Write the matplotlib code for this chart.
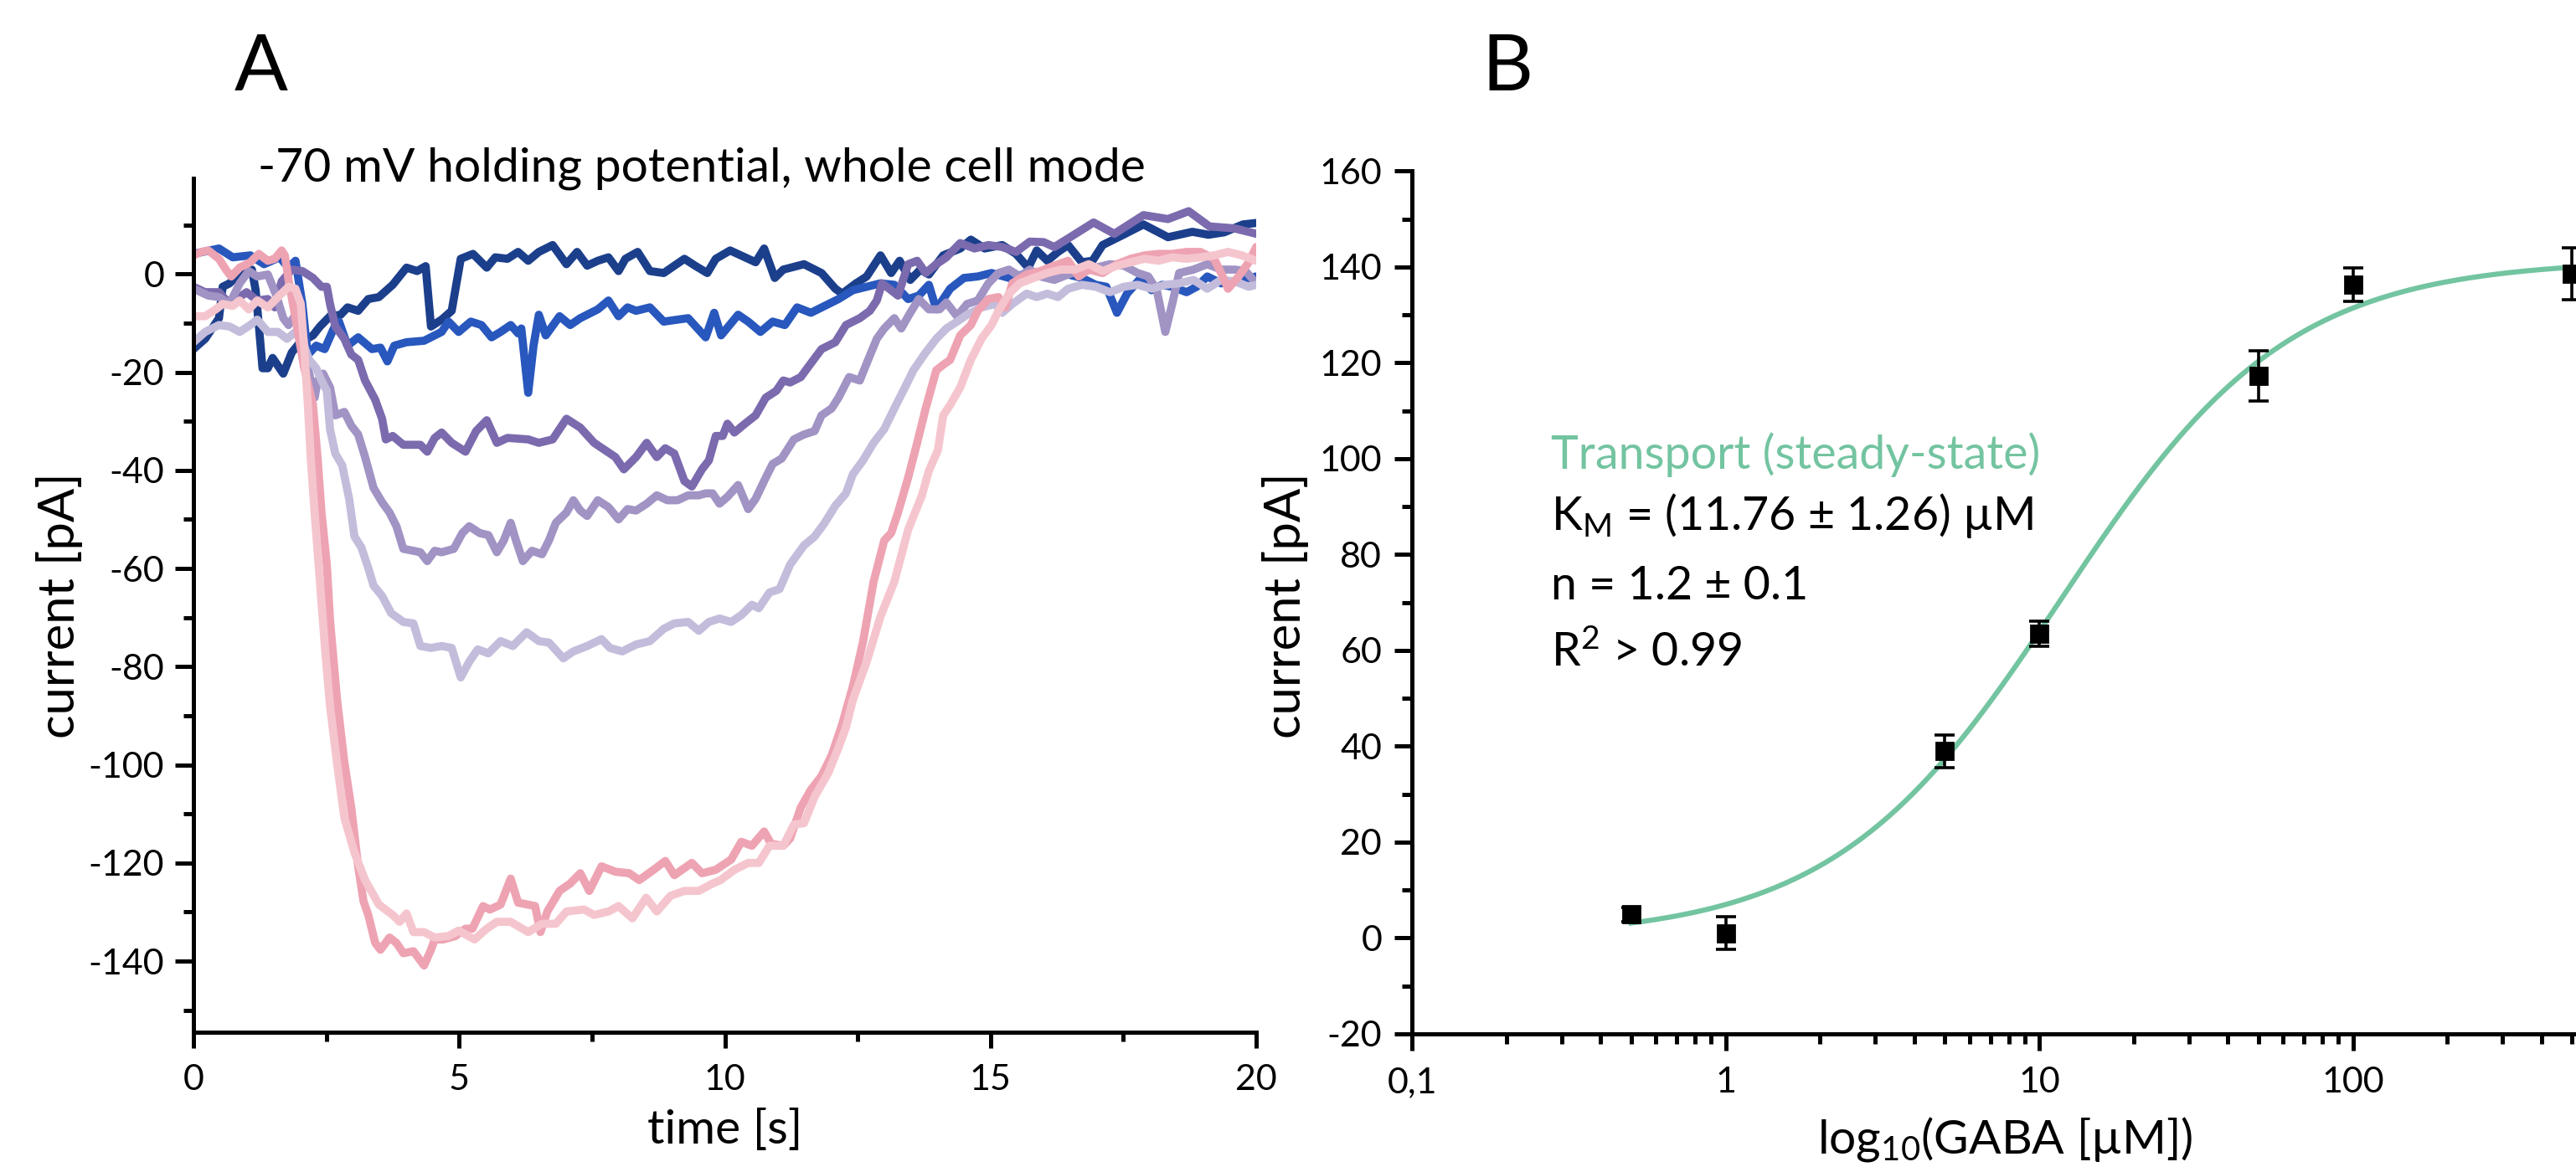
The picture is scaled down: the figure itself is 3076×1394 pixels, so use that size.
import numpy as np
import matplotlib
matplotlib.use("Agg")
import matplotlib.pyplot as plt
from matplotlib.ticker import MultipleLocator, FixedLocator, FixedFormatter, LogLocator, NullFormatter

plt.rcParams['font.family'] = ['Lato', 'DejaVu Sans']
plt.rcParams['mathtext.fontset'] = 'custom'
plt.rcParams['mathtext.rm'] = 'Lato'
plt.rcParams['mathtext.it'] = 'Lato:italic'
plt.rcParams['mathtext.bf'] = 'Lato:bold'
plt.rcParams['axes.unicode_minus'] = False

# ---------------- Panel A data: current traces ----------------
t_navy = [0.0, 0.22, 0.48, 0.55, 0.68, 0.81, 0.97, 1.10, 1.17, 1.23, 1.30, 1.40, 1.49, 1.69, 1.85, 2.0,
          2.25, 2.38, 2.57, 2.77, 2.90, 3.10, 3.29, 3.49, 3.75, 4.01, 4.21, 4.37, 4.47, 4.67, 4.86, 5.03,
          5.26, 5.52, 5.68, 5.91, 6.11, 6.30, 6.50, 6.76, 7.02, 7.22, 7.41, 7.61, 7.81, 8.00, 8.13, 8.36,
          8.59, 8.85, 9.24, 9.44, 9.67, 9.83, 10.10, 10.38, 10.58, 10.74, 10.94, 11.10, 11.49, 11.82,
          12.08, 12.21, 12.47, 12.67, 12.93, 13.13, 13.29, 13.49, 13.68, 13.84, 14.11, 14.43, 14.63,
          14.89, 15.22, 15.48, 15.71, 15.87, 16.07, 16.27, 16.46, 16.72, 16.92, 17.11, 17.5, 17.88,
          18.34, 18.8, 19.1, 19.4, 19.75, 20.0]
i_navy = [-15.3, -13.2, -9.0, -2.6, -1.9, -0.5, 0.2, 0.9, -3.3, -10.4, -19.2, -19.2, -17.1, -20.3, -16.0, -14.0,
          -12.5, -10.7, -8.6, -8.3, -6.8, -7.5, -5.1, -4.7, -2.2, 1.3, 0.6, 1.6, -10.7, -9.3, -7.5, 3.1,
          4.1, 1.3, 3.4, 3.1, 4.5, 2.7, 4.5, 5.9, 2.0, 4.5, 1.7, 2.7, 3.4, 0.6, 3.1, 4.5,
          0.6, 0.2, 3.1, 1.7, 0.2, 3.1, 4.8, 3.4, 2.4, 5.2, -0.8, 0.9, 2.0, 0.2,
          -3.0, -4.0, -1.9, -0.5, 3.8, 0.2, 2.7, -1.2, 0.9, -0.1, 3.8, 5.2, 7.0,
          5.2, 5.9, 4.1, 1.3, 4.8, 2.7, 4.5, 5.9, 2.4, 2.7, 5.9, 8.0, 10.1,
          7.5, 8.6, 8.0, 8.5, 10.1, 10.4]

t_blue = [0.0, 0.48, 0.74, 1.07, 1.33, 1.62, 1.79, 1.92, 2.05, 2.15, 2.31, 2.47, 2.64, 2.74, 2.90, 3.10,
          3.36, 3.52, 3.65, 3.78, 4.01, 4.34, 4.67, 4.80, 4.99, 5.22, 5.42, 5.61, 5.78, 5.97, 6.11, 6.17,
          6.30, 6.40, 6.50, 6.63, 6.89, 7.09, 7.28, 7.61, 7.81, 8.00, 8.17, 8.33, 8.59, 8.85, 9.11, 9.31,
          9.64, 9.80, 9.93, 10.25, 10.44, 10.67, 10.90, 11.13, 11.36, 11.62, 11.88, 12.14, 12.41, 12.67,
          12.93, 13.19, 13.45, 13.65, 13.84, 13.98, 14.24, 14.50, 14.76, 15.02, 15.35, 15.61, 15.94,
          16.20, 16.46, 16.72, 16.98, 17.18, 17.38, 17.57, 17.83, 18.03, 18.23, 18.42, 18.69, 18.88,
          19.08, 19.34, 19.60, 20.0]
i_blue = [4.1, 5.2, 3.4, 3.8, 2.0, 3.4, 1.3, 2.7, -6.1, -16.5, -14.6, -15.3, -11.1, -9.7, -14.6, -12.9,
          -15.3, -15.0, -17.8, -14.6, -13.9, -13.6, -11.8, -9.7, -11.8, -9.7, -10.4, -12.9, -11.8, -10.4, -12.1, -11.1,
          -24.2, -14.6, -8.3, -12.5, -8.6, -10.4, -9.0, -7.2, -5.4, -8.6, -6.8, -7.5, -6.8, -9.7, -9.3, -9.0,
          -12.9, -7.9, -12.5, -8.3, -9.7, -11.8, -9.7, -10.4, -6.8, -7.9, -6.5, -5.1, -3.3, -2.6,
          -1.9, -2.2, -5.1, -4.4, -2.2, -7.2, -3.0, -0.8, -0.5, 0.2, -0.8, -0.1, 0.2,
          0.2, -0.1, -0.8, -2.2, -2.6, -7.9, -4.0, -0.8, -3.3, -2.2, -2.6, -3.7, -2.6,
          -0.5, -1.9, -1.5, -0.5]

t_purple = [0.0, 0.22, 0.48, 0.68, 0.87, 1.00, 1.20, 1.40, 1.53, 1.66, 1.85, 2.05, 2.25, 2.41, 2.51, 2.57,
            2.67, 2.84, 2.97, 3.10, 3.23, 3.42, 3.55, 3.62, 3.75, 3.95, 4.14, 4.27, 4.40, 4.54, 4.67, 4.86,
            5.12, 5.32, 5.52, 5.71, 5.91, 6.30, 6.50, 6.76, 7.02, 7.28, 7.54, 7.94, 8.10, 8.33, 8.53, 8.72,
            8.88, 9.05, 9.24, 9.38, 9.57, 9.70, 9.83, 9.96, 10.05, 10.18, 10.38, 10.58, 10.77, 10.97, 11.10,
            11.23, 11.43, 11.62, 11.82, 12.08, 12.28, 12.54, 12.73, 12.86, 12.96, 13.13, 13.26, 13.45, 13.62,
            13.78, 13.98, 14.17, 14.43, 14.70, 14.96, 15.22, 15.48, 15.74, 16.0, 16.2, 16.47, 16.94, 17.33,
            17.88, 18.34, 18.73, 19.12, 19.59, 20.0]
i_purple = [-2.6, -3.7, -3.7, -6.1, -4.7, -3.7, -5.4, -5.1, -6.8, -1.5, 0.9, 0.6, -0.8, -2.6, -2.6, -6.1,
            -10.7, -13.2, -16.4, -17.5, -21.7, -25.6, -29.5, -33.7, -33.0, -34.8, -34.8, -34.8, -36.2, -33.4, -32.3, -34.4,
            -36.2, -32.0, -29.8, -34.4, -33.4, -33.7, -34.4, -33.7, -29.5, -31.3, -34.4, -37.3, -39.8, -37.3, -34.4, -37.3,
            -35.5, -36.6, -42.2, -43.3, -39.8, -38.0, -33.0, -33.0, -30.5, -32.3, -30.5, -28.8, -25.2, -23.8, -21.7,
            -22.1, -21.0, -18.2, -15.3, -13.9, -10.4, -9.0, -7.5, -5.4, -1.9, -3.3, -4.4, 2.0, 2.7,
            0.2, 2.0, 3.4, 6.3, 5.2, 5.9, 5.5, 4.5, 6.6, 6.5, 5.5, 7.3, 10.5, 8.2,
            12.0, 11.2, 12.8, 9.7, 9.3, 8.2]

t_lav = [0.0, 0.28, 0.48, 0.68, 0.87, 1.04, 1.20, 1.40, 1.56, 1.69, 1.79, 1.92, 2.05, 2.15, 2.28, 2.34,
         2.44, 2.57, 2.67, 2.84, 2.97, 3.10, 3.23, 3.39, 3.55, 3.69, 3.82, 3.95, 4.14, 4.27, 4.40, 4.54,
         4.67, 4.90, 5.06, 5.19, 5.39, 5.55, 5.71, 5.84, 5.97, 6.07, 6.20, 6.37, 6.56, 6.69, 6.82, 7.02,
         7.15, 7.28, 7.41, 7.61, 7.81, 8.00, 8.17, 8.33, 8.53, 8.72, 8.92, 9.11, 9.31, 9.51, 9.64, 9.77,
         9.90, 10.05, 10.25, 10.44, 10.58, 10.77, 10.90, 11.07, 11.30, 11.49, 11.69, 11.82, 12.01, 12.14,
         12.34, 12.54, 12.67, 12.86, 13.0, 13.19, 13.32, 13.49, 13.65, 13.84, 14.04, 14.17, 14.37, 14.56,
         14.76, 14.96, 15.15, 15.35, 15.55, 15.74, 15.94, 16.20, 16.46, 16.72, 16.98, 17.25, 17.51, 17.77,
         17.97, 18.13, 18.29, 18.42, 18.55, 18.82, 19.08, 19.34, 19.60, 19.80, 20.0]
i_lav = [-3.0, -4.4, -4.7, -6.1, -1.9, 0.6, -0.5, -0.1, -4.4, -9.0, -10.4, -8.3, -11.8, -18.9, -25.2, -21.7,
         -20.3, -23.1, -28.8, -28.1, -30.9, -32.7, -37.3, -43.6, -46.5, -48.6, -51.4, -56.0, -56.4, -56.7, -58.5, -56.4,
         -56.7, -56.0, -52.8, -51.4, -52.8, -53.2, -56.7, -54.3, -50.7, -54.3, -58.5, -56.4, -57.1, -54.3, -50.7, -48.6,
         -46.1, -48.2, -49.3, -46.1, -47.5, -50.0, -47.9, -48.2, -46.8, -45.1, -46.1, -46.1, -45.1, -45.1, -44.7, -44.7,
         -46.8, -45.4, -43.0, -47.9, -45.8, -41.5, -38.7, -37.6, -33.7, -32.7, -32.0, -28.8, -27.4, -25.2,
         -21.0, -21.7, -18.2, -13.2, -11.1, -9.0, -11.1, -7.9, -5.1, -7.2, -7.2, -5.8, -8.6, -6.1,
         -5.4, -1.9, 0.2, 0.9, -0.5, 0.9, -0.5, -1.2, -0.1, 0.9, 1.3, 2.0, 1.7, 0.2,
         -0.5, -3.3, -11.8, -6.1, 0.2, 0.9, 2.0, 0.9, 0.9, 0.6, -1.9]

t_lightlav = [0.0, 0.22, 0.48, 0.68, 0.87, 1.07, 1.20, 1.40, 1.59, 1.76, 1.92, 2.08, 2.18, 2.31, 2.41, 2.51,
              2.57, 2.67, 2.80, 2.93, 3.03, 3.16, 3.29, 3.39, 3.55, 3.72, 3.95, 4.14, 4.27, 4.47, 4.67, 4.86,
              5.03, 5.19, 5.35, 5.55, 5.78, 6.01, 6.27, 6.50, 6.69, 6.96, 7.15, 7.41, 7.68, 7.84, 8.07, 8.33,
              8.59, 8.85, 9.05, 9.31, 9.51, 9.70, 9.90, 10.12, 10.31, 10.51, 10.64, 10.84, 11.03, 11.23, 11.49,
              11.69, 11.88, 12.08, 12.28, 12.41, 12.60, 12.80, 13.0, 13.19, 13.39, 13.55, 13.78, 13.98, 14.17,
              14.37, 14.56, 14.83, 15.09, 15.22, 15.41, 15.68, 15.87, 16.07, 16.27, 16.46, 16.72, 16.98, 17.25,
              17.51, 17.77, 18.03, 18.29, 18.55, 18.82, 19.08, 19.34, 19.60, 19.86, 20.0]
i_lightlav = [-13.9, -11.8, -10.4, -10.7, -11.8, -10.4, -9.3, -11.8, -11.8, -13.2, -11.8, -14.6, -17.5, -19.2, -21.7, -23.8,
              -31.6, -36.6, -39.0, -45.8, -53.5, -55.7, -59.9, -63.5, -65.6, -69.1, -70.9, -71.2, -75.8, -76.2, -75.8, -76.2,
              -82.2, -79.0, -76.5, -77.3, -74.8, -75.8, -73.0, -74.8, -75.1, -78.3, -76.9, -75.8, -74.4, -76.2, -76.9, -75.5,
              -74.8, -72.3, -71.2, -70.9, -72.7, -70.9, -70.2, -70.9, -69.5, -67.4, -68.1, -64.9, -64.2, -59.2, -55.3,
              -53.5, -50.7, -47.2, -44.7, -40.8, -38.0, -34.4, -31.6, -27.4, -23.1, -19.6, -16.0, -13.2, -11.1,
              -9.7, -8.3, -6.8, -6.1, -7.9, -6.1, -4.0, -4.7, -4.0, -4.7, -3.0, -2.2, -2.6, -3.7,
              -2.6, -2.2, -3.0, -2.2, -1.9, -1.2, -3.0, -1.2, -1.5, -2.6, -2.2]

t_pink = [0.0, 0.15, 0.28, 0.48, 0.61, 0.71, 0.87, 1.07, 1.23, 1.40, 1.53, 1.66, 1.72, 1.79, 1.92, 2.08,
          2.25, 2.34, 2.41, 2.51, 2.57, 2.70, 2.84, 2.97, 3.10, 3.20, 3.29, 3.42, 3.52, 3.69, 3.82, 3.95,
          4.14, 4.34, 4.47, 4.54, 4.70, 4.93, 5.12, 5.25, 5.45, 5.58, 5.78, 5.97, 6.11, 6.30, 6.43, 6.53,
          6.66, 6.89, 7.09, 7.28, 7.45, 7.68, 7.94, 8.20, 8.39, 8.66, 8.88, 9.05, 9.38, 9.57, 9.83, 10.12,
          10.31, 10.51, 10.74, 10.87, 11.10, 11.23, 11.43, 11.62, 11.82, 12.01, 12.21, 12.41, 12.60, 12.80,
          13.0, 13.13, 13.26, 13.45, 13.62, 13.78, 13.98, 14.11, 14.24, 14.43, 14.63, 14.76, 14.96, 15.15,
          15.28, 15.41, 15.68, 15.94, 16.20, 16.46, 16.66, 16.85, 17.11, 17.38, 17.64, 17.9, 18.16, 18.42,
          18.69, 18.95, 19.21, 19.34, 19.47, 19.67, 19.86, 20.0]
i_pink = [3.8, 4.5, 4.8, 3.1, 0.9, -0.5, 1.3, 2.4, 4.1, 2.7, 3.1, 4.8, 3.8, -1.2, -9.0, -18.9,
          -26.7, -38.0, -48.6, -59.2, -70.5, -86.5, -99.5, -108.7, -120.7, -127.8, -130.6, -136.3, -137.7, -135.2, -136.3, -138.4,
          -138.0, -140.9, -137.7, -135.6, -135.6, -134.9, -133.4, -133.4, -128.8, -129.5, -128.5, -123.2, -128.1, -128.5, -128.8, -134.1,
          -129.9, -125.7, -124.2, -122.1, -125.7, -120.7, -121.8, -122.1, -123.5, -121.4, -119.6, -122.5, -120.0, -122.1, -121.4, -119.3,
          -115.7, -116.5, -113.6, -116.1, -116.5, -115.0, -108.7, -105.1, -102.3, -98.1, -91.7, -84.0, -75.0, -62.7,
          -54.3, -52.8, -48.6, -41.5, -34.4, -27.4, -19.6, -18.5, -17.5, -12.5, -10.4, -7.5, -5.1, -4.7,
          -6.8, -1.9, -0.1, 0.6, 1.7, 2.7, -0.5, 0.9, 0.2, 2.0, 3.1, 3.8, 4.1, 4.1,
          4.5, 4.5, 3.1, 0.2, -3.0, -0.5, 2.4, 5.5]

t_lightpink = [0.0, 0.22, 0.42, 0.55, 0.74, 0.87, 1.04, 1.20, 1.40, 1.59, 1.79, 1.92, 2.02, 2.08, 2.15, 2.21,
               2.28, 2.38, 2.48, 2.57, 2.70, 2.84, 3.03, 3.23, 3.49, 3.75, 3.88, 4.01, 4.14, 4.34, 4.54, 4.80,
               4.99, 5.29, 5.52, 5.71, 5.97, 6.30, 6.56, 6.82, 7.02, 7.35, 7.54, 7.81, 8.00, 8.26, 8.52, 8.72,
               8.98, 9.24, 9.51, 9.77, 9.92, 10.18, 10.44, 10.64, 10.84, 11.10, 11.30, 11.49, 11.69, 11.95,
               12.14, 12.28, 12.41, 12.67, 12.93, 13.19, 13.45, 13.71, 13.84, 14.01, 14.11, 14.24, 14.43, 14.63,
               14.83, 15.02, 15.15, 15.35, 15.55, 15.81, 16.07, 16.33, 16.59, 16.85, 17.11, 17.38, 17.64, 17.90,
               18.16, 18.42, 18.69, 18.95, 19.21, 19.47, 19.73, 20.0]
i_lightpink = [-8.6, -8.6, -7.2, -6.1, -6.5, -5.4, -7.2, -5.4, -6.8, -4.7, -2.6, -3.0, -6.1, -14.6, -26.0, -38.0,
               -48.6, -62.7, -76.9, -88.0, -99.5, -110.8, -117.9, -123.5, -128.5, -130.6, -132.0, -130.3, -134.1, -134.1, -135.2, -134.9,
               -133.8, -135.6, -133.4, -132.0, -132.0, -134.1, -132.4, -132.4, -129.9, -129.5, -130.6, -129.9, -128.8, -131.3, -127.1, -129.9,
               -126.7, -125.7, -125.7, -124.2, -123.5, -121.4, -120.0, -120.0, -116.5, -116.5, -112.2, -111.9, -106.5, -101.6,
               -96.5, -92.4, -86.8, -79.0, -69.8, -62.7, -52.1, -45.1, -40.1, -35.9, -28.8, -26.7, -23.1, -17.5,
               -13.2, -10.4, -7.5, -4.0, -1.9, -0.8, 0.2, 0.9, 0.9, 2.0, 0.6, 1.7, 2.4, 3.1,
               2.7, 3.4, 3.1, 3.4, 3.8, 4.5, 3.8, 2.7]

traces = [
    (t_navy, i_navy, '#1c3f8c'),
    (t_blue, i_blue, '#2857bd'),
    (t_purple, i_purple, '#7c6aae'),
    (t_lav, i_lav, '#a193c4'),
    (t_lightlav, i_lightlav, '#c4bcdb'),
    (t_pink, i_pink, '#eea3b2'),
    (t_lightpink, i_lightpink, '#f5c5cd'),
]

# ---------------- Panel B data: dose-response ----------------
gaba_conc = [0.5, 1, 5, 10, 50, 100, 500]
current_mean = [4.9, 1.0, 39.0, 63.5, 117.3, 136.3, 138.6]
current_err = [1.5, 3.4, 3.4, 2.6, 5.3, 3.5, 5.4]
fit_km = 11.76
fit_n = 1.2
fit_vmax = 141.5
xtick_vals = [0.1, 1, 10, 100, 1000]
xtick_labels = ['0,1', '1', '10', '100', '']

FIG_W, FIG_H = 3076, 1394
DPI = 200
fig = plt.figure(figsize=(FIG_W / DPI, FIG_H / DPI), dpi=DPI)

def fx(px):
    return px / FIG_W

def fy(py):
    return 1 - py / FIG_H

spine_lw = 1.8
tick_fs = 15.5
xlabel_fs = 20.5
ylabel_fs = 21.5

# ---------- Panel A ----------
axA = fig.add_axes([fx(231), fy(1233), fx(1500) - fx(231), fy(213) - fy(1233)])
for t, i, c in traces:
    axA.plot(t, i, color=c, lw=3.5, solid_joinstyle='round', solid_capstyle='round')
axA.set_xlim(0, 20)
axA.set_ylim(-154.5, 19.5)
axA.xaxis.set_major_locator(MultipleLocator(5))
axA.xaxis.set_minor_locator(MultipleLocator(2.5))
axA.yaxis.set_major_locator(MultipleLocator(20))
axA.yaxis.set_minor_locator(MultipleLocator(10))
for s in ['top', 'right']:
    axA.spines[s].set_visible(False)
for s in ['left', 'bottom']:
    axA.spines[s].set_linewidth(spine_lw)
axA.tick_params(axis='x', which='major', length=7, width=spine_lw, pad=6.5, labelsize=tick_fs, direction='out')
axA.tick_params(axis='x', which='minor', length=3.8, width=spine_lw, direction='out')
axA.tick_params(axis='y', which='major', length=8, width=spine_lw, pad=4.5, labelsize=tick_fs, direction='out')
axA.tick_params(axis='y', which='minor', length=4.5, width=spine_lw, direction='out')
axA.set_xlabel('time [s]', fontsize=xlabel_fs)
axA.xaxis.label.set_verticalalignment('baseline')
axA.xaxis.set_label_coords(0.5, (fy(1366) - fy(1233)) / (fy(213) - fy(1233)))
axA.set_ylabel('current [pA]', fontsize=ylabel_fs)
axA.yaxis.set_label_coords((fx(99) - fx(231)) / (fx(1500) - fx(231)), 0.5)

# ---------- Panel B ----------
bl, br, bb, bt = 1686, 3184, 1235, 204.4
axB = fig.add_axes([fx(bl), fy(bb), fx(br) - fx(bl), fy(bt) - fy(bb)])
xfit = np.logspace(np.log10(0.5), np.log10(500), 300)
yfit = fit_vmax * xfit ** fit_n / (fit_km ** fit_n + xfit ** fit_n)
axB.plot(xfit, yfit, color='#73c4a0', lw=2.2, zorder=2)
axB.errorbar(gaba_conc, current_mean, yerr=current_err, fmt='s', color='black', ms=7,
             elinewidth=1.3, capsize=4.3, capthick=1.3, zorder=3, clip_on=False)
axB.set_xscale('log')
axB.set_xlim(0.1, 1000)
axB.set_ylim(-20, 160)
axB.xaxis.set_major_locator(FixedLocator(xtick_vals))
axB.xaxis.set_major_formatter(FixedFormatter(xtick_labels))
axB.xaxis.set_minor_locator(LogLocator(base=10, subs=np.arange(2, 10)))
axB.xaxis.set_minor_formatter(NullFormatter())
axB.yaxis.set_major_locator(MultipleLocator(20))
axB.yaxis.set_minor_locator(MultipleLocator(10))
for s in ['top', 'right']:
    axB.spines[s].set_visible(False)
for s in ['left', 'bottom']:
    axB.spines[s].set_linewidth(spine_lw)
axB.tick_params(axis='x', which='major', length=7.2, width=spine_lw, pad=7, labelsize=tick_fs, direction='out')
axB.tick_params(axis='x', which='minor', length=4.3, width=spine_lw, direction='out')
axB.tick_params(axis='y', which='major', length=7.4, width=spine_lw, pad=5.5, labelsize=tick_fs, direction='out')
axB.tick_params(axis='y', which='minor', length=4.3, width=spine_lw, direction='out')
axB.set_xlabel(r'log$_{10}$(GABA [µM])', fontsize=xlabel_fs)
axB.xaxis.label.set_verticalalignment('baseline')
axB.xaxis.label.set_horizontalalignment('center')
axB.xaxis.set_label_coords((fx(2394) - fx(bl)) / (fx(br) - fx(bl)), (fy(1378) - fy(bb)) / (fy(bt) - fy(bb)))
axB.set_ylabel('current [pA]', fontsize=ylabel_fs)
axB.yaxis.set_label_coords((fx(1563) - fx(bl)) / (fx(br) - fx(bl)), (fy(723) - fy(bb)) / (fy(bt) - fy(bb)))

# ---------- Texts ----------
fig.text(fx(280), fy(108), 'A', fontsize=34, va='baseline', ha='left')
fig.text(fx(1769), fy(108), 'B', fontsize=34, va='baseline', ha='left')
fig.text(fx(838), fy(216.5), '-70 mV holding potential, whole cell mode', fontsize=20.5,
         va='baseline', ha='center')

ann_x = fx(1852)
fig.text(ann_x, fy(560), 'Transport (steady-state)', fontsize=20, color='#73c4a0', va='baseline')
fig.text(ann_x, fy(633), r'K$_\mathrm{M}$ = (11.76 ± 1.26) µM', fontsize=20, va='baseline')
fig.text(ann_x, fy(716), 'n = 1.2 ± 0.1', fontsize=20, va='baseline')
fig.text(ann_x, fy(796), r'R$^\mathrm{2}$ > 0.99', fontsize=20, va='baseline')

fig.savefig('out.png', dpi=DPI)
